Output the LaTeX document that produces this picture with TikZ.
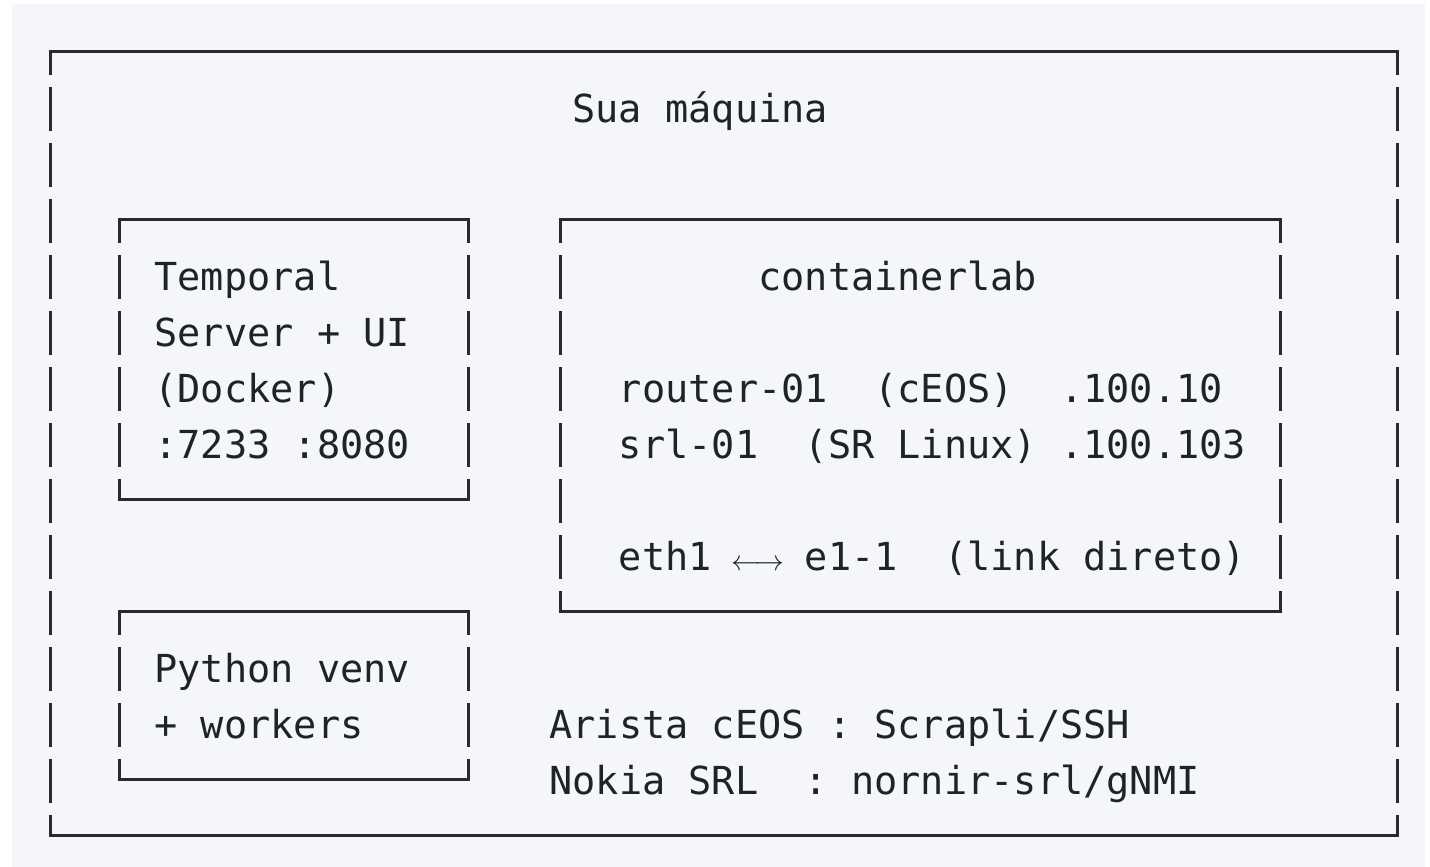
\documentclass[tikz,border=0pt]{standalone}
\usepackage{fontspec}
\setmonofont{DejaVu Sans Mono}
\definecolor{pagebg}{HTML}{F4F6F9}
\definecolor{ink}{HTML}{1F2328}
\definecolor{rule}{HTML}{2A2A2A}
\begin{document}
\begin{tikzpicture}[x=0.5pt,y=-0.5pt,
  hline/.style={draw=rule,line width=1.5pt,line cap=rect},
  vline/.style={draw=rule,line width=1.5pt,line cap=butt,dash pattern=on 22pt off 6pt,dash phase=10pt},
  txt/.style={anchor=base west,inner sep=0pt,outer sep=0pt,text=ink,font=\fontsize{19.29}{20}\selectfont\ttfamily}]
\useasboundingbox (0,0) rectangle (1430,867);
\fill[white] (0,0) rectangle (1430,867);
\fill[pagebg] (12,4) rectangle (1425,867);

% box corners (column centres 50 + 23.224 i, row lines 51 + 56 r)
\coordinate (outer-nw) at (50,51);
\coordinate (outer-ne) at (1396.99,51);
\coordinate (outer-sw) at (50,835);
\coordinate (outer-se) at (1396.99,835);

\coordinate (temp-nw) at (119.67,219);
\coordinate (temp-ne) at (468.03,219);
\coordinate (temp-sw) at (119.67,499);
\coordinate (temp-se) at (468.03,499);

\coordinate (clab-nw) at (560.93,219);
\coordinate (clab-ne) at (1280.87,219);
\coordinate (clab-sw) at (560.93,611);
\coordinate (clab-se) at (1280.87,611);

\coordinate (py-nw) at (119.67,611);
\coordinate (py-ne) at (468.03,611);
\coordinate (py-sw) at (119.67,779);
\coordinate (py-se) at (468.03,779);

\foreach \b in {outer,temp,clab,py}{
  \draw[hline] (\b-nw) -- (\b-ne);
  \draw[hline] (\b-sw) -- (\b-se);
  \draw[vline] (\b-nw) -- (\b-sw);
  \draw[vline] (\b-ne) -- (\b-se);
}

% texts
\node[txt] (title) at (572.54,122.5) {Sua~máquina};

\node[txt] (temp1) at (154.51,290.5) {Temporal};
\node[txt] (temp2) at (154.51,346.5) {Server~+~UI};
\node[txt] (temp3) at (154.51,402.5) {(Docker)};
\node[txt] (temp4) at (154.51,458.5) {:7233~:8080};

\node[txt] (clab) at (758.33,290.5) {containerlab};
\node[txt] (router) at (618.99,402.5) {router-01~~(cEOS)~~.100.10};
\node[txt] (srl) at (618.99,458.5) {srl-01~~(SR~Linux)~.100.103};
\node[txt] (link) at (618.99,570.5) {eth1~\makebox[23.22pt]{\fontsize{14.8}{15}\selectfont$\longleftrightarrow$}~e1-1~~(link~direto)};

\node[txt] (py1) at (154.51,682.5) {Python~venv};
\node[txt] (py2) at (154.51,738.5) {+~workers};

\node[txt] (arista) at (549.32,738.5) {Arista~cEOS~:~Scrapli/SSH};
\node[txt] (nokia) at (549.32,794.5) {Nokia~SRL~~:~nornir-srl/gNMI};
\end{tikzpicture}
\end{document}
